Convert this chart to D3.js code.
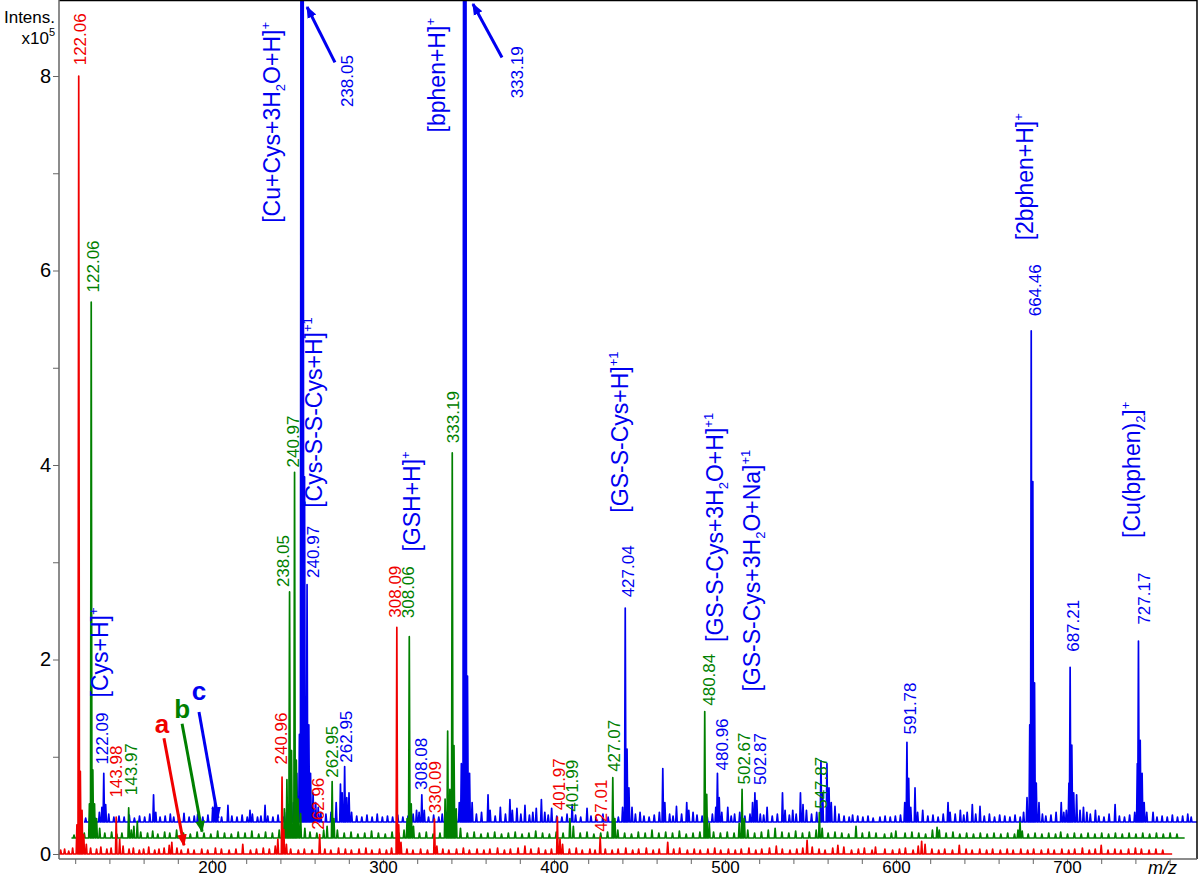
<!DOCTYPE html>
<html>
<head>
<meta charset="utf-8">
<script src="https://cdn.jsdelivr.net/npm/d3@7"></script>
<style>
  body { margin: 0; background: #fff; }
  svg { display: block; font-family: "Liberation Sans", Arial, sans-serif; }
</style>
</head>
<body>
<svg id="chart" width="1200" height="879"></svg>
<script>
// ---- data (intensity in units of 1e5, each trace relative to its own zero) ----
const mzRange = [110.5, 761.5];
const xTickLabels = [200, 300, 400, 500, 600, 700];
const yTickLabels = [0, 2, 4, 6, 8];

// trace a (red)
const peaksA = [
  [111.5,0.04],[113.8,0.05],[116.2,0.03],[118.5,0.06],[121,0.3],[122.06,8.0],[123,0.85],[124,0.45],[125,0.2],[126.5,0.1],
  [129,0.06],[132.5,0.05],[135,0.07],[138.5,0.05],[141,0.06],[143.98,0.38],[146,0.15],[148,0.08],[151.5,0.05],[154,0.06],
  [157.5,0.04],[160,0.05],[163,0.07],[166.5,0.04],[169,0.05],[172,0.06],[175,0.09],[176.5,0.12],[179.5,0.06],[182,0.04],
  [186,0.05],[189.5,0.04],[194,0.05],[197.5,0.04],[202,0.06],[205.5,0.05],[210,0.04],[214,0.05],[218,0.1],[222.5,0.04],
  [226,0.05],[230,0.06],[233.5,0.05],[237,0.08],[238.5,0.15],[240.96,0.79],[242,0.25],[243.5,0.1],[246,0.05],[250.5,0.04],
  [254,0.05],[258.5,0.04],[262.96,0.2],[266,0.05],[269.5,0.04],[274,0.06],[278,0.05],[281.5,0.04],[286,0.05],[290,0.06],
  [293.5,0.04],[298,0.05],[302,0.04],[305,0.06],[308.09,2.33],[309.2,0.3],[310.5,0.12],[314,0.05],[317.5,0.04],[322,0.05],
  [326,0.04],[330.09,0.36],[331.5,0.08],[335,0.05],[338.5,0.04],[343,0.05],[347,0.06],[350.5,0.04],[355,0.05],[359,0.04],
  [362.5,0.05],[367,0.06],[371,0.04],[374.5,0.05],[379,0.06],[383,0.08],[386.5,0.05],[391,0.06],[395,0.04],[398.5,0.05],
  [401.97,0.38],[403.5,0.15],[405,0.1],[409,0.05],[413,0.06],[416.5,0.04],[421,0.05],[424,0.04],[427.01,0.17],[430,0.05],
  [434,0.04],[437.5,0.05],[442,0.06],[446,0.04],[449.5,0.05],[454,0.06],[458,0.04],[461.5,0.05],[466.5,0.12],[470,0.05],
  [473.5,0.06],[478,0.04],[482,0.05],[485.5,0.04],[490,0.05],[494,0.06],[497.5,0.04],[502,0.05],[506,0.04],[509.5,0.05],
  [514,0.06],[518,0.04],[521.5,0.05],[526,0.06],[530,0.08],[533.5,0.05],[538,0.04],[542,0.05],[545.5,0.06],[548,0.14],
  [551,0.07],[555,0.05],[558.5,0.04],[563,0.06],[566,0.09],[569.5,0.07],[574,0.04],[578,0.05],[581.5,0.06],[586,0.04],
  [588,0.07],[593.5,0.05],[598,0.04],[602,0.05],[605.5,0.06],[610,0.04],[613,0.08],[615,0.13],[617,0.1],[621,0.05],
  [625,0.04],[628.5,0.05],[633,0.04],[637,0.09],[641,0.05],[644.5,0.04],[649,0.05],[653,0.04],[656.5,0.05],[661,0.04],
  [665,0.05],[668.5,0.04],[673,0.05],[677,0.04],[680.5,0.05],[685,0.04],[689,0.05],[692.5,0.04],[697,0.05],[701,0.04],
  [704.5,0.05],[709,0.06],[713,0.04],[716.5,0.05],[720,0.09],[724,0.04],[728,0.05],[731.5,0.04],[736,0.05],[740,0.06],
  [743.5,0.05],[748,0.04],[752,0.05],[756,0.04]
];

// trace b (green)
const peaksB = [
  [112,0.03],[115,0.04],[118,0.05],[121,0.35],[122.06,5.51],[123,0.7],[124,0.35],[125.2,0.2],[127,0.1],[130,0.05],
  [134,0.06],[137,0.04],[140,0.05],[143.97,0.31],[145.5,0.08],[147,0.12],[149,0.17],[151,0.06],[155,0.05],[158,0.07],
  [161,0.04],[165,0.06],[168,0.05],[172,0.08],[176,0.05],[180,0.04],[184,0.06],[188,0.05],[192,0.04],[196,0.07],
  [200,0.05],[204,0.04],[208,0.06],[212,0.05],[216,0.07],[220,0.04],[224,0.06],[228,0.05],[232,0.08],[235,0.3],
  [236.5,0.6],[238.05,2.53],[239.2,0.9],[240.97,3.76],[242,0.8],[243,0.4],[244.5,0.25],[247,0.1],[250,0.06],[254,0.05],
  [258,0.08],[260,0.12],[262.95,0.58],[264,0.2],[266,0.08],[270,0.05],[274,0.06],[278,0.04],[282,0.05],[286,0.07],
  [290,0.05],[294,0.04],[298,0.06],[302,0.05],[305,0.08],[306.8,0.2],[308.06,2.07],[309.2,0.35],[310.5,0.12],[314,0.05],
  [318,0.06],[322,0.04],[326,0.05],[329,0.4],[330.5,1.1],[331.8,0.5],[333.19,3.96],[334.2,0.95],[335.5,0.3],[338,0.1],
  [342,0.05],[346,0.06],[350,0.04],[354,0.05],[358,0.06],[362,0.04],[366,0.05],[370,0.06],[374,0.04],[378,0.05],
  [382,0.07],[386,0.05],[390,0.04],[394,0.06],[398,0.05],[401.99,0.2],[404,0.12],[408,0.05],[412,0.06],[416,0.04],
  [420,0.05],[424,0.06],[427.07,0.62],[428.3,0.2],[430,0.08],[434,0.05],[438,0.04],[442,0.06],[446,0.05],[450,0.08],
  [454,0.05],[458,0.06],[462,0.05],[466,0.07],[470,0.04],[474,0.05],[478,0.06],[480.84,1.3],[482,0.45],[483.5,0.15],
  [486,0.06],[490,0.05],[494,0.06],[498,0.05],[501,0.15],[502.67,0.5],[504,0.2],[506,0.08],[510,0.05],[514,0.06],
  [518,0.08],[522,0.1],[526,0.06],[530,0.05],[534,0.07],[538,0.05],[542,0.06],[546,0.08],[547.87,0.26],[549.5,0.1],
  [553,0.05],[557,0.06],[561,0.05],[565,0.04],[569.3,0.12],[573,0.05],[577,0.06],[581,0.05],[586,0.04],[590,0.05],
  [592.6,0.07],[598,0.05],[602,0.06],[606,0.05],[610,0.04],[614,0.08],[616.7,0.11],[618,0.08],[622,0.05],[626,0.06],
  [630,0.04],[634,0.05],[638,0.04],[642,0.05],[646,0.04],[650,0.05],[654,0.04],[658,0.05],[662,0.04],[664,0.08],
  [665.2,0.16],[666.5,0.07],[670,0.04],[674,0.05],[678,0.04],[682,0.05],[686,0.04],[689,0.06],[693,0.04],[697,0.05],
  [701,0.04],[705,0.05],[709,0.04],[713,0.05],[717,0.04],[721,0.05],[725,0.04],[729,0.05],[733,0.04],[737,0.05],
  [741,0.04],[745,0.05],[749,0.04],[753,0.05],[757,0.04]
];

// trace c (blue)
const peaksC = [
  [111.5,0.04],[114,0.05],[117,0.04],[119.5,0.1],[121,0.15],[122.09,0.5],[123.2,0.18],[125,0.08],[128,0.05],[131,0.06],
  [134,0.05],[137,0.07],[140,0.04],[143,0.06],[146,0.05],[149,0.08],[151.2,0.28],[152.5,0.1],[155,0.05],[158,0.06],
  [161,0.08],[163,0.05],[166,0.07],[169,0.09],[172,0.05],[175,0.06],[177,0.08],[180,0.05],[183,0.07],[185.8,0.15],
  [187,0.2],[188.5,0.08],[191,0.05],[194.7,0.17],[197,0.06],[200,0.05],[203,0.07],[206,0.05],[207.6,0.12],[209,0.08],
  [212,0.05],[214,0.06],[216.4,0.17],[218,0.06],[221,0.05],[224,0.07],[227,0.05],[229,0.1],[231,0.12],[233,0.2],
  [235,0.5],[236.5,0.9],[237.5,12],[238.05,12],[238.6,12],[239.5,3.55],[240.97,2.44],[242,1.0],[243,0.5],[244.5,0.3],
  [246,0.2],[247.5,0.15],[249,0.1],[252,0.08],[255,0.1],[258,0.2],[260.5,0.39],[261.5,0.3],[262.95,0.57],[264.2,0.25],
  [265.5,0.3],[267,0.1],[270,0.06],[273,0.05],[276,0.07],[279,0.05],[282,0.08],[285,0.05],[288,0.06],[291,0.05],
  [294,0.07],[297,0.05],[300,0.06],[303,0.08],[305,0.12],[306.5,0.1],[308.08,0.28],[309.5,0.12],[312,0.05],[315,0.07],
  [318,0.05],[320,0.08],[322.8,0.1],[325,0.06],[328,0.08],[330,0.2],[331.2,0.6],[332.6,12],[333.19,12],[333.8,12],
  [334.8,1.5],[336,0.5],[337.5,0.2],[340,0.08],[343,0.1],[346.8,0.28],[348,0.12],[351,0.06],[354,0.15],[357,0.08],
  [359.6,0.23],[361,0.12],[363.7,0.14],[366,0.08],[368.4,0.17],[371,0.07],[373,0.1],[375,0.14],[378,0.23],[380,0.1],
  [382,0.07],[384,0.14],[387,0.06],[390,0.05],[393,0.08],[396,0.18],[398,0.07],[401,0.05],[404.7,0.14],[407,0.06],
  [410,0.05],[414,0.08],[417,0.05],[420,0.06],[423,0.05],[425.5,0.15],[427.04,2.2],[428.1,0.75],[429.2,0.35],[431,0.15],
  [433,0.08],[435.7,0.1],[438,0.06],[441,0.05],[444,0.07],[447,0.1],[449,0.55],[450.2,0.2],[453,0.08],[455,0.06],
  [457,0.16],[460,0.08],[463,0.2],[464.2,0.12],[466.7,0.1],[469,0.07],[472,0.06],[475,0.05],[478,0.08],[480,0.15],
  [480.96,0.5],[482,0.25],[483.5,0.1],[487,0.15],[489,0.06],[491,0.08],[494,0.1],[497,0.06],[500,0.08],[501.5,0.2],
  [502.87,0.3],[504,0.22],[506,0.08],[508,0.07],[510,0.15],[513,0.06],[516,0.08],[519,0.3],[520.5,0.12],[523,0.07],
  [525,0.12],[527,0.08],[529.5,0.3],[531,0.18],[533,0.12],[536,0.08],[539,0.1],[541.5,0.63],[542.5,0.3],[545,0.6],
  [546.2,0.35],[547.5,0.2],[549.7,0.16],[552,0.08],[555,0.06],[558,0.05],[560,0.07],[563,0.06],[566,0.05],[569,0.06],
  [572,0.04],[576,0.05],[579,0.06],[582,0.05],[585,0.06],[588,0.07],[590.5,0.2],[591.78,0.82],[592.8,0.45],[594,0.15],
  [596.5,0.35],[598,0.1],[601,0.12],[604,0.06],[607,0.07],[610,0.05],[613,0.08],[615.8,0.2],[617,0.1],[620,0.08],
  [623,0.12],[625,0.07],[627,0.1],[630,0.18],[632,0.08],[634.5,0.16],[637,0.06],[640,0.08],[643,0.05],[646,0.07],
  [649,0.06],[652,0.05],[655,0.07],[658,0.05],[660,0.1],[662,0.25],[663.6,1.0],[664.46,5.05],[665.4,3.5],[666.4,1.43],
  [667.4,0.4],[669,0.2],[671,0.08],[673,0.06],[676,0.07],[679,0.1],[682,0.2],[683.5,0.1],[685,0.12],[686.5,0.4],
  [687.21,1.59],[688.2,0.79],[689.3,0.3],[691,0.28],[693,0.12],[695,0.15],[697,0.1],[699,0.08],[702,0.12],[704,0.06],
  [707,0.05],[710,0.08],[713.5,0.18],[716,0.06],[719,0.05],[722,0.07],[725,0.1],[726.5,0.6],[727.17,1.86],[728.2,0.84],
  [729.3,0.5],[730.5,0.2],[732,0.1],[735.7,0.1],[738,0.05],[741,0.06],[744,0.05],[747,0.07],[750,0.05],[753,0.06],
  [756,0.08],[758,0.05]
];

// peak labels: [label position m/z, label base level, text]
const labelsA = [
  [122.8,8.11,"122.06"],[143.9,0.58,"143.98"],[240.4,0.92,"240.96"],[262.0,0.25,"262.96"],
  [307.0,2.43,"308.09"],[330.4,0.42,"330.09"],[402.9,0.45,"401.97"],[427.5,0.23,"427.01"]
];
const labelsB = [
  [123.0,5.61,"122.06"],[145.3,0.44,"143.97"],[234.2,2.58,"238.05"],[240.1,3.81,"240.97"],
  [262.9,0.62,"262.95"],[307.3,2.26,"308.06"],[333.6,4.06,"333.19"],[403.2,0.27,"401.99"],
  [427.8,0.68,"427.07"],[483.3,1.36,"480.84"],[503.8,0.55,"502.67"],[548.8,0.3,"547.87"]
];
const labelsC = [
  [121.1,0.59,"122.09"],[244.4,2.51,"240.97"],[263.7,0.61,"262.95"],[307.6,0.33,"308.08"],
  [428.7,2.31,"427.04"],[483.6,0.53,"480.96"],[505.8,0.38,"502.87"],[593.6,0.9,"591.78"],
  [666.7,5.2,"664.46"],[688.9,1.75,"687.21"],[730.4,2.03,"727.17"]
];

// labels of off-scale peaks with arrows: [label m/z, label level, text, arrow from, arrow to]
const arrowLabels = [
  [278.9,7.68,"238.05",[271.9,8.14],[255.6,8.71]],
  [378.4,7.77,"333.19",[369.6,8.19],[352.6,8.74]]
];

// ion assignments: [m/z, level, segments]
const ionLabels = [
  [239.8,6.49,[["[Cu+Cys+3H"],["2","sub"],["O+H]"],["+","sup"]]],
  [336.3,7.42,[["[bphen+H]"],["+","sup"]]],
  [264.3,3.56,[["[Cys-S-S-Cys+H]"],["+1","sup"]]],
  [321.6,3.11,[["[GSH+H]"],["+","sup"]]],
  [443.3,3.51,[["[GS-S-Cys+H]"],["+1","sup"]]],
  [498.8,2.18,[["[GS-S-Cys+3H"],["2","sub"],["O+H]"],["+1","sup"]]],
  [520.5,1.67,[["[GS-S-Cys+3H"],["2","sub"],["O+Na]"],["+1","sup"]]],
  [680.1,6.31,[["[2bphen+H]"],["+","sup"]]],
  [742.7,3.25,[["[Cu(bphen)"],["2","sub"],["]"],["+","sup"]]],
  [139.2,1.61,[["[Cys+H]"],["+","sup"]]]
];

// trace letters: [letter, letter m/z, level, arrow from, arrow to]
const traceLetters = [
  ["a",170.8,1.244,[171.9,1.19],[183.6,0.09]],
  ["b",182.5,1.398,[182.5,1.34],[194.2,0.23]],
  ["c",192.4,1.584,[192.4,1.46],[203.5,0.37]]
];

// ---- drawing ----
const svg = d3.select('#chart');
const pLeft = 59, pRight = 1197, pTop = 0, pBottom = 859;

const x = d3.scaleLinear().domain([200, 700]).range([212, 1067]);
const y = d3.scaleLinear().domain([0, 8]).range([854, 76]);

const colors = { a: '#f00000', b: '#008000', c: '#0000f0' };
const traces = [
  { key: 'c', peaks: peaksC, labels: labelsC, dx: 25, dy: -32 },
  { key: 'b', peaks: peaksB, labels: labelsB, dx: 12.5, dy: -16 },
  { key: 'a', peaks: peaksA, labels: labelsA, dx: 0, dy: 0 }
];

const defs = svg.append('defs');
defs.append('clipPath').attr('id', 'plotclip')
  .append('rect').attr('x', pLeft).attr('y', pTop)
  .attr('width', pRight - pLeft).attr('height', pBottom - pTop);

['a', 'b', 'c'].forEach(function(k) {
  defs.append('marker').attr('id', 'head-' + k)
    .attr('viewBox', '0 0 10 10').attr('refX', 9).attr('refY', 5)
    .attr('markerWidth', 4).attr('markerHeight', 4).attr('orient', 'auto')
    .append('path').attr('d', 'M0,1 L10,5 L0,9 z').attr('fill', colors[k]);
});

const halfW = 0.42;
function stickPath(peaks) {
  const sorted = peaks.slice().sort(function(p, q) { return p[0] - q[0]; });
  const pts = [[mzRange[0], 0]];
  sorted.forEach(function(p) {
    pts.push([p[0] - halfW, 0], [p[0], p[1]], [p[0] + halfW, 0]);
  });
  pts.push([mzRange[1], 0]);
  return d3.line().x(function(d) { return x(d[0]); }).y(function(d) { return y(d[1]); })(pts);
}

const plot = svg.append('g').attr('clip-path', 'url(#plotclip)');
traces.forEach(function(t) {
  plot.append('path')
    .attr('transform', 'translate(' + t.dx + ',' + t.dy + ')')
    .attr('d', stickPath(t.peaks))
    .attr('fill', 'none')
    .attr('stroke', colors[t.key])
    .attr('stroke-width', 1.7)
    .attr('stroke-linejoin', 'round');
});

// peak labels
traces.forEach(function(t) {
  const g = svg.append('g').attr('transform', 'translate(' + t.dx + ',' + t.dy + ')');
  g.selectAll('text').data(t.labels).enter().append('text')
    .attr('transform', function(d) { return 'translate(' + x(d[0]) + ',' + y(d[1]) + ') rotate(-90)'; })
    .attr('dy', '0.36em')
    .attr('font-size', 17)
    .attr('fill', colors[t.key])
    .text(function(d) { return d[2]; });
});

// arrow labels for the off-scale blue peaks
arrowLabels.forEach(function(d) {
  svg.append('text')
    .attr('transform', 'translate(' + x(d[0]) + ',' + y(d[1]) + ') rotate(-90)')
    .attr('dy', '0.36em').attr('font-size', 17).attr('fill', colors.c).text(d[2]);
  svg.append('line')
    .attr('x1', x(d[3][0])).attr('y1', y(d[3][1]))
    .attr('x2', x(d[4][0])).attr('y2', y(d[4][1]))
    .attr('stroke', colors.c).attr('stroke-width', 3)
    .attr('marker-end', 'url(#head-c)');
});

// ion assignment labels
ionLabels.forEach(function(d) {
  const t = svg.append('text')
    .attr('transform', 'translate(' + x(d[0]) + ',' + y(d[1]) + ') rotate(-90)')
    .attr('dy', '0.36em')
    .attr('font-size', 23)
    .attr('fill', colors.c);
  let shift = 0;
  d[2].forEach(function(seg) {
    let target = 0, size = 23;
    if (seg[1] === 'sup') { target = -10; size = 13; }
    if (seg[1] === 'sub') { target = 5; size = 13; }
    t.append('tspan').attr('font-size', size).attr('dy', target - shift).text(seg[0]);
    shift = target;
  });
});

// trace letters with arrows
traceLetters.forEach(function(d) {
  svg.append('text')
    .attr('x', x(d[1])).attr('y', y(d[2]))
    .attr('text-anchor', 'middle')
    .attr('font-size', 26).attr('font-weight', 'bold')
    .attr('fill', colors[d[0]]).text(d[0]);
  svg.append('line')
    .attr('x1', x(d[3][0])).attr('y1', y(d[3][1]))
    .attr('x2', x(d[4][0])).attr('y2', y(d[4][1]))
    .attr('stroke', colors[d[0]]).attr('stroke-width', 3)
    .attr('marker-end', 'url(#head-' + d[0] + ')');
});

// frame
svg.append('line').attr('x1', pLeft).attr('x2', pRight).attr('y1', 0.5).attr('y2', 0.5)
  .attr('stroke', '#000').attr('stroke-width', 1.5);
svg.append('line').attr('x1', pRight).attr('x2', pRight).attr('y1', 0).attr('y2', pBottom)
  .attr('stroke', '#000').attr('stroke-width', 1.5);

// y axis
const yAxis = d3.axisLeft(y).tickValues(d3.range(0, 9, 1)).tickSize(6)
  .tickFormat(function(d) { return yTickLabels.indexOf(d) >= 0 ? d : ''; });
const ya = svg.append('g').attr('transform', 'translate(' + pLeft + ',0)').call(yAxis);
ya.select('.domain').attr('d', 'M0,' + pTop + 'V' + pBottom).attr('stroke', '#666').attr('stroke-width', 1.5);
ya.selectAll('.tick line').attr('stroke', '#666');
ya.selectAll('.tick text').attr('font-size', 20).attr('fill', '#000').attr('x', -8)
  .attr('font-family', '"Liberation Sans", Arial, sans-serif');

// x axis
const xAxis = d3.axisBottom(x).tickValues(d3.range(120, 761, 20)).tickSize(5)
  .tickFormat(function(d) { return xTickLabels.indexOf(d) >= 0 ? d : ''; });
const xa = svg.append('g').attr('transform', 'translate(0,' + pBottom + ')').call(xAxis);
xa.select('.domain').attr('d', 'M' + pLeft + ',0H' + pRight).attr('stroke', '#666').attr('stroke-width', 1.5);
xa.selectAll('.tick line').attr('stroke', '#666');
xa.selectAll('.tick text').attr('font-size', 17).attr('fill', '#000').attr('y', 2)
  .attr('font-family', '"Liberation Sans", Arial, sans-serif');

svg.append('text').attr('x', 1148).attr('y', 874)
  .attr('font-size', 18).attr('font-style', 'italic').text('m/z');

svg.append('text').attr('x', 55).attr('y', 23).attr('text-anchor', 'end')
  .attr('font-size', 17).text('Intens.');
const yl = svg.append('text').attr('x', 55).attr('y', 44).attr('text-anchor', 'end').attr('font-size', 17);
yl.append('tspan').text('x10');
yl.append('tspan').attr('font-size', 11).attr('dy', -8).text('5');
</script>
</body>
</html>
